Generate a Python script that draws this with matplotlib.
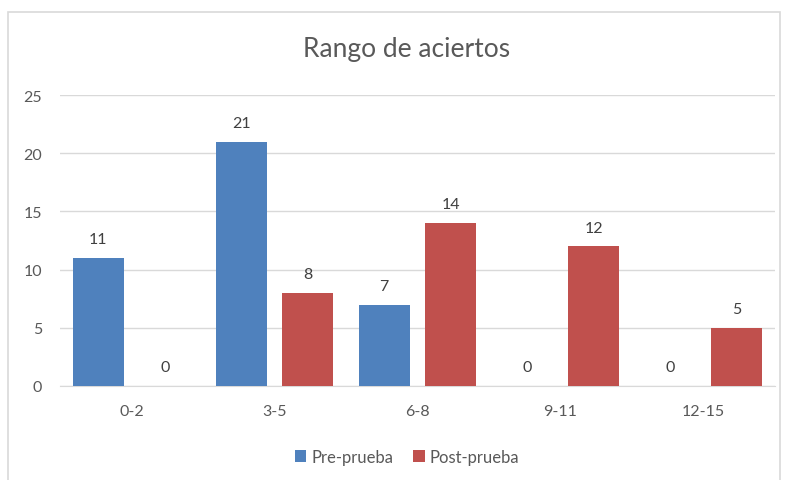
import matplotlib
matplotlib.use("Agg")
import matplotlib.pyplot as plt
import numpy as np
from matplotlib.patches import Rectangle

categories = ["0-2", "3-5", "6-8", "9-11", "12-15"]
pre_prueba = [11, 21, 7, 0, 0]
post_prueba = [0, 8, 14, 12, 5]
series_names = ["Pre-prueba", "Post-prueba"]
y_ticks = [0, 5, 10, 15, 20, 25]

BLUE = "#4F81BD"
RED = "#C0504D"
TEXT = "#595959"
GRID = "#D9D9D9"

plt.rcParams["font.family"] = ["Lato", "DejaVu Sans"]

fig = plt.figure(figsize=(7.9, 4.81), dpi=100)
fig.patch.set_facecolor("white")

# outer chart frame
fig.add_artist(Rectangle((8 / 790, -0.05), 772 / 790, 1 - 13 / 481 + 0.05,
                         transform=fig.transFigure, fill=False,
                         edgecolor="#D9D9D9", linewidth=1.2))

ax = fig.add_axes([60 / 790, 1 - 387 / 481, 715 / 790, 291 / 481])
x = np.arange(len(categories))
w = 0.357
off = 0.234
b1 = ax.bar(x - off, pre_prueba, w, color=BLUE, label=series_names[0], zorder=3)
b2 = ax.bar(x + off, post_prueba, w, color=RED, label=series_names[1], zorder=3)

for bars, vals in ((b1, pre_prueba), (b2, post_prueba)):
    for rect, v in zip(bars, vals):
        ax.text(rect.get_x() + rect.get_width() / 2, v + 1.0, f"{v}",
                ha="center", va="bottom", fontsize=11.5, color="#404040")

ax.set_xlim(-0.5, 4.5)
ax.set_ylim(0, 25)
ax.set_yticks(y_ticks)
ax.set_xticks(x)
ax.set_xticklabels(categories)
ax.tick_params(axis="both", length=0, labelsize=11.5, labelcolor=TEXT)
ax.tick_params(axis="x", pad=13)
ax.tick_params(axis="y", pad=13)
ax.grid(axis="y", color=GRID, linewidth=1, zorder=0)
for s in ("top", "right", "left"):
    ax.spines[s].set_visible(False)
ax.spines["bottom"].set_color(GRID)
ax.set_axisbelow(True)

fig.text(407 / 790, 1 - 50 / 481, "Rango de aciertos", ha="center", va="center",
         fontsize=19, color=TEXT)

fig.legend(handles=[b1, b2], labels=series_names, loc="center",
           bbox_to_anchor=(407 / 790, 1 - 458 / 481), ncol=2, frameon=False,
           fontsize=12, labelcolor=TEXT, handlelength=0.7, handleheight=0.7,
           handletextpad=0.3, columnspacing=1.2)

fig.savefig("out.png", dpi=100)
